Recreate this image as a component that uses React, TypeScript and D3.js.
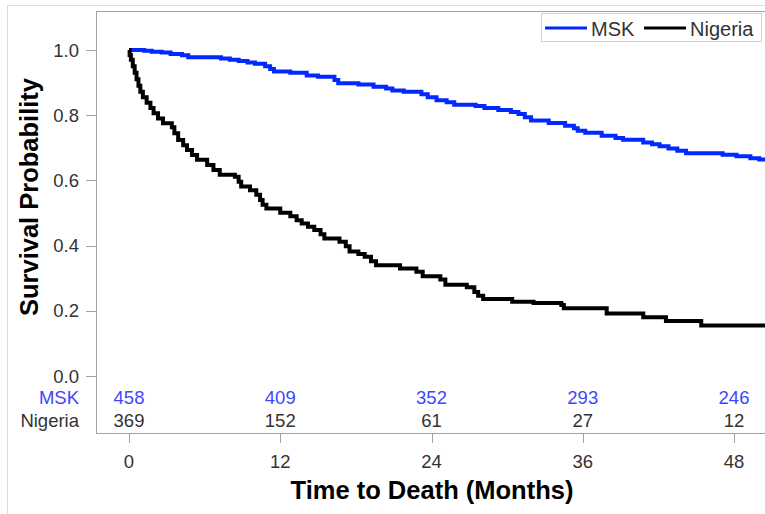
import React from "react";
import * as d3 from "d3";

// Kaplan-Meier step data: [months, survival]
const mskSteps: [number, number][] = [
  [0, 1.0], [1.2, 0.998], [1.8, 0.995], [2.6, 0.992], [3.3, 0.988], [4.2, 0.984],
  [4.7, 0.978], [7.3, 0.974], [8.0, 0.97], [8.7, 0.966], [9.4, 0.962], [10.0, 0.958],
  [10.8, 0.95], [11.2, 0.942], [11.5, 0.934], [12.8, 0.93], [14.1, 0.922], [15.0, 0.918],
  [16.3, 0.908], [16.6, 0.898], [18.2, 0.894], [19.4, 0.887], [20.4, 0.882], [20.9, 0.876],
  [21.8, 0.872], [23.2, 0.864], [23.7, 0.855], [24.4, 0.846], [25.2, 0.84], [25.8, 0.832],
  [27.5, 0.828], [28.2, 0.822], [29.3, 0.816], [30.3, 0.81], [30.9, 0.804], [31.4, 0.794],
  [31.9, 0.784], [33.3, 0.776], [34.6, 0.768], [35.3, 0.76], [35.6, 0.752], [36.2, 0.746],
  [37.5, 0.737], [38.6, 0.73], [39.2, 0.725], [40.8, 0.716], [41.5, 0.711], [42.1, 0.705],
  [42.8, 0.698], [43.5, 0.691], [44.2, 0.683], [47.1, 0.679], [48.2, 0.674], [49.3, 0.668],
  [50.0, 0.664],
];

const nigeriaSteps: [number, number][] = [
  [0, 1.0], [0.05, 0.985], [0.15, 0.97], [0.3, 0.95], [0.45, 0.93], [0.6, 0.91],
  [0.75, 0.89], [0.9, 0.872], [1.1, 0.855], [1.4, 0.838], [1.7, 0.822], [1.95, 0.806],
  [2.3, 0.79], [2.7, 0.775], [3.4, 0.763], [3.6, 0.745], [3.9, 0.724], [4.3, 0.708],
  [4.6, 0.693], [5.0, 0.678], [5.4, 0.663], [6.2, 0.647], [6.7, 0.632], [7.2, 0.617],
  [8.4, 0.611], [8.7, 0.596], [8.9, 0.581], [9.6, 0.57], [10.1, 0.556], [10.4, 0.54],
  [10.6, 0.525], [10.9, 0.514], [12.0, 0.501], [12.8, 0.49], [13.3, 0.478], [13.7, 0.468],
  [14.2, 0.458], [14.7, 0.448], [15.2, 0.435], [15.5, 0.422], [16.7, 0.412], [17.2, 0.398],
  [17.5, 0.382], [18.2, 0.374], [18.7, 0.366], [19.2, 0.352], [19.6, 0.34], [21.5, 0.33],
  [22.8, 0.32], [23.3, 0.306], [24.7, 0.296], [25.1, 0.28], [26.8, 0.272], [27.4, 0.258],
  [27.7, 0.246], [28.1, 0.236], [30.4, 0.228], [32.1, 0.224], [34.3, 0.218], [34.5, 0.208],
  [37.9, 0.192], [40.8, 0.18], [42.6, 0.169], [45.4, 0.155],
];

const followUpEnd = 51;

const xTicks = [0, 12, 24, 36, 48];
const yTicks = [0, 0.2, 0.4, 0.6, 0.8, 1.0];
const mskAtRisk = [458, 409, 352, 293, 246];
const nigeriaAtRisk = [369, 152, 61, 27, 12];

const W = 765;
const H = 514;
const frame = { left: 96, top: 11, bottom: 433, right: 780 };
const font = "'Liberation Sans', Arial, sans-serif";
const blue = "#0028ff";
const textBlue = "#3f46ff";

export default function App() {
  const x = d3.scaleLinear().domain([0, 48]).range([129, 734]);
  const y = d3.scaleLinear().domain([0, 1]).range([376, 50]);

  const line = d3
    .line<[number, number]>()
    .x((d) => x(d[0]))
    .y((d) => y(d[1]))
    .curve(d3.curveStepAfter);

  const extend = (s: [number, number][]): [number, number][] => [
    ...s,
    [followUpEnd, s[s.length - 1][1]],
  ];

  return (
    <div style={{ position: "absolute", left: 0, top: 0 }}>
      <svg width={W} height={H} style={{ display: "block", background: "#fff" }}>
        <defs>
          <clipPath id="plot">
            <rect x={frame.left} y={frame.top} width={frame.right - frame.left} height={frame.bottom - frame.top} />
          </clipPath>
        </defs>

        {/* outer border */}
        <line x1={7.5} y1={5.5} x2={W} y2={5.5} stroke="#dcdcdc" />
        <line x1={7.5} y1={5.5} x2={7.5} y2={H} stroke="#dcdcdc" />

        {/* plot frame */}
        <rect
          x={frame.left + 0.5}
          y={frame.top + 0.5}
          width={frame.right - frame.left}
          height={frame.bottom - frame.top}
          fill="none"
          stroke="#a3a3a3"
        />

        {/* y axis */}
        {yTicks.map((t) => (
          <g key={t}>
            <line x1={86} x2={frame.left} y1={Math.round(y(t)) + 0.5} y2={Math.round(y(t)) + 0.5} stroke="#a3a3a3" />
            <text
              x={79}
              y={y(t)}
              dy="0.36em"
              textAnchor="end"
              fontFamily={font}
              fontSize={18.5}
              fill="#333"
            >
              {t.toFixed(1)}
            </text>
          </g>
        ))}
        <text
          transform={`translate(38,197) rotate(-90)`}
          textAnchor="middle"
          fontFamily={font}
          fontSize={25.5}
          fontWeight="bold"
          fill="#000"
        >
          Survival Probability
        </text>

        {/* x axis */}
        {xTicks.map((t) => (
          <g key={t}>
            <line x1={Math.round(x(t)) + 0.5} x2={Math.round(x(t)) + 0.5} y1={frame.bottom} y2={443} stroke="#a3a3a3" />
            <text x={x(t)} y={468} textAnchor="middle" fontFamily={font} fontSize={18.5} fill="#333">
              {t}
            </text>
          </g>
        ))}
        <text x={432} y={499} textAnchor="middle" fontFamily={font} fontSize={25.5} fontWeight="bold" fill="#000">
          Time to Death (Months)
        </text>

        {/* at-risk table */}
        <text x={79} y={404} textAnchor="end" fontFamily={font} fontSize={18.5} fill={textBlue}>
          MSK
        </text>
        <text x={79} y={427} textAnchor="end" fontFamily={font} fontSize={18.5} fill="#333">
          Nigeria
        </text>
        {xTicks.map((t, i) => (
          <g key={"r" + t}>
            <text x={x(t)} y={404} textAnchor="middle" fontFamily={font} fontSize={18.5} fill={textBlue}>
              {mskAtRisk[i]}
            </text>
            <text x={x(t)} y={427} textAnchor="middle" fontFamily={font} fontSize={18.5} fill="#333">
              {nigeriaAtRisk[i]}
            </text>
          </g>
        ))}

        {/* survival curves */}
        <g clipPath="url(#plot)">
          <path d={line(extend(mskSteps)) || ""} fill="none" stroke={blue} strokeWidth={4} />
          <path d={line(extend(nigeriaSteps)) || ""} fill="none" stroke="#000" strokeWidth={4} />
        </g>

        {/* legend */}
        <rect x={541.5} y={13.5} width={220} height={28} fill="#fff" stroke="#d0d0d0" />
        <line x1={545} x2={587} y1={28} y2={28} stroke={blue} strokeWidth={3} />
        <text x={591} y={36} fontFamily={font} fontSize={20} fill="#333">
          MSK
        </text>
        <line x1={644} x2={686} y1={28} y2={28} stroke="#000" strokeWidth={3} />
        <text x={690} y={36} fontFamily={font} fontSize={20} fill="#333">
          Nigeria
        </text>
      </svg>
    </div>
  );
}
